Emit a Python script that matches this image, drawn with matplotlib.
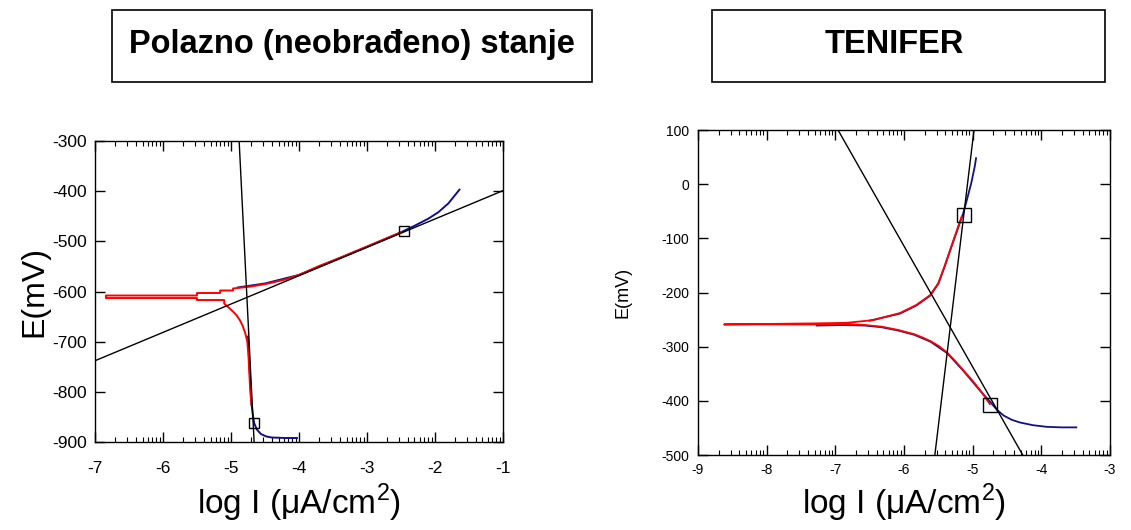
import numpy as np
import matplotlib
matplotlib.use("Agg")
import matplotlib.pyplot as plt
from matplotlib.patches import Rectangle

plt.rcParams['font.family'] = ['Liberation Sans', 'DejaVu Sans']
plt.rcParams['axes.unicode_minus'] = False
plt.rcParams['mathtext.fontset'] = 'custom'
plt.rcParams['mathtext.rm'] = 'Liberation Sans'

# ---- left panel: Polazno (neobradjeno) stanje ----
red_left_x = [-4.70, -4.72, -4.745, -4.76, -4.79, -4.83, -4.87, -4.92, -4.97, -5.05, -5.10, -5.10,
              -5.50, -5.50, -6.84, -6.84, -5.50, -5.50, -5.16, -5.16, -4.97, -4.97, -4.70,
              -4.45, -4.20, -4.00, -3.70, -3.40, -3.10, -2.80, -2.50]
red_left_y = [-826, -790, -723, -700, -683, -668, -657, -647, -640, -630, -624, -617,
              -617, -613, -613, -608, -608, -603, -603, -598, -598, -594, -590,
              -584, -576, -567, -549, -533, -516, -499, -482]
blue_left_cx = [-4.75, -4.74, -4.72, -4.70, -4.68, -4.66, -4.62, -4.56, -4.48, -4.40, -4.20, -4.03]
blue_left_cy = [-690, -720, -770, -820, -845, -862, -875, -884, -889, -891, -892, -892]
blue_left_ax = [-4.90, -4.50, -4.00, -3.50, -3.00, -2.50, -2.30, -2.10, -1.95, -1.80, -1.64]
blue_left_ay = [-592, -584, -567, -539, -511, -482, -469, -455, -442, -424, -397]
tafel_left_a_x = [-7.0, -1.0]
tafel_left_a_y = [-738, -399]
tafel_left_c_x = [-4.88, -4.66]
tafel_left_c_y = [-300, -900]
sq_left_x = [-2.46, -4.66]
sq_left_y = [-479, -863]

# ---- right panel: TENIFER ----
red_right_x = [-4.75, -4.88, -5.00, -5.125, -5.25, -5.37, -5.49, -5.61, -5.73, -5.85, -6.09, -6.33,
               -6.57, -6.90, -7.30, -8.62, -7.30, -6.84, -6.45, -6.06, -5.82, -5.62, -5.50,
               -5.41, -5.31, -5.21, -5.16]
red_right_y = [-406, -382, -363, -345, -327, -311, -299, -290, -283, -277, -269, -263,
               -260, -258, -259, -259, -257, -256, -251, -238, -223, -205, -183,
               -152, -115, -78, -60]
blue_right_lx = [-7.27, -6.90, -6.57, -6.33, -6.09, -5.85, -5.61, -5.37, -5.125, -4.88, -4.75,
                 -4.65, -4.55, -4.43, -4.31, -4.12, -3.92, -3.70, -3.49]
blue_right_ly = [-261, -260, -261, -264, -270, -278, -291, -312, -346, -383, -401,
                 -416, -427, -435, -440, -445, -448, -449, -449]
blue_right_ux = [-6.50, -6.06, -5.82, -5.62, -5.50, -5.41, -5.31, -5.21, -5.14, -5.09, -5.02, -4.97, -4.95]
blue_right_uy = [-252, -239, -224, -206, -184, -153, -116, -80, -55, -32, 2, 32, 48]
tafel_right_a_x = [-4.98, -5.55]
tafel_right_a_y = [100, -500]
tafel_right_c_x = [-6.96, -4.27]
tafel_right_c_y = [100, -500]
sq_right_x = [-5.13, -4.75]
sq_right_y = [-57, -407]

titles = ["Polazno (neobrađeno) stanje", "TENIFER"]
xlabel = "log I (μA/cm$^{\\mathrm{2}}$)"

RED = '#ff0000'
BLUE = '#10108c'

fig = plt.figure(figsize=(11.31, 5.30), dpi=100)

ax1 = fig.add_axes([0.0840, 0.166, 0.3607, 0.568])
ax2 = fig.add_axes([0.6171, 0.1415, 0.3643, 0.6132])

# left
ax1.plot(blue_left_cx, blue_left_cy, color=BLUE, lw=1.4)
ax1.plot(blue_left_ax, blue_left_ay, color=BLUE, lw=1.4)
ax1.plot(red_left_x, red_left_y, color=RED, lw=1.4)
ax1.plot(tafel_left_a_x, tafel_left_a_y, color='black', lw=1.0)
ax1.plot(tafel_left_c_x, tafel_left_c_y, color='black', lw=1.0)
ax1.plot(sq_left_x, sq_left_y, 's', ms=6.5, mfc='none', mec='black', mew=1.0)
ax1.set_xlim(-7, -1)
ax1.set_ylim(-900, -300)
ax1.set_xticks(np.arange(-7, 0, 1))
ax1.set_yticks(np.arange(-900, -299, 100))
ax1.set_ylabel("E(mV)", fontsize=23, labelpad=2)
ax1.set_xlabel(xlabel, fontsize=24, labelpad=4)

# right
ax2.plot(blue_right_lx, blue_right_ly, color=BLUE, lw=1.3)
ax2.plot(blue_right_ux, blue_right_uy, color=BLUE, lw=1.3)
ax2.plot(red_right_x, red_right_y, color=RED, lw=1.3)
ax2.plot(tafel_right_a_x, tafel_right_a_y, color='black', lw=1.0)
ax2.plot(tafel_right_c_x, tafel_right_c_y, color='black', lw=1.0)
ax2.plot(sq_right_x, sq_right_y, 's', ms=10, mfc='none', mec='black', mew=1.0)
ax2.set_xlim(-9, -3)
ax2.set_ylim(-500, 100)
ax2.set_xticks(np.arange(-9, -2, 1))
ax2.set_yticks(np.arange(-500, 101, 100))
ax2.set_ylabel("E(mV)", fontsize=13, labelpad=22)
ax2.set_xlabel(xlabel, fontsize=24, labelpad=3)

for ax, fs, xpad in [(ax1, 12.5, 14), (ax2, 10, 6)]:
    lo, hi = ax.get_xlim()
    minors = [d + np.log10(k) for d in range(int(lo), int(hi)) for k in range(2, 10)]
    ax.set_xticks(minors, minor=True)
    ax.tick_params(which='major', direction='in', length=7, width=1.0,
                   top=True, right=True, labelsize=fs, pad=6)
    ax.tick_params(axis='x', which='major', pad=xpad)
    ax.tick_params(which='minor', direction='in', length=3.5, width=0.8, top=True)
    for s in ax.spines.values():
        s.set_linewidth(1.0)

# title boxes
fig.patches.append(Rectangle((0.099, 0.8453), 0.4244, 0.1358, transform=fig.transFigure,
                             fill=False, edgecolor='black', lw=1.2))
fig.patches.append(Rectangle((0.6295, 0.8453), 0.3475, 0.1358, transform=fig.transFigure,
                             fill=False, edgecolor='black', lw=1.2))
fig.text(0.311, 0.900, titles[0], fontsize=23.5, fontweight='bold', ha='center', va='baseline')
fig.text(0.7905, 0.900, titles[1], fontsize=23.5, fontweight='bold', ha='center', va='baseline')

fig.savefig("out.png", dpi=100)
